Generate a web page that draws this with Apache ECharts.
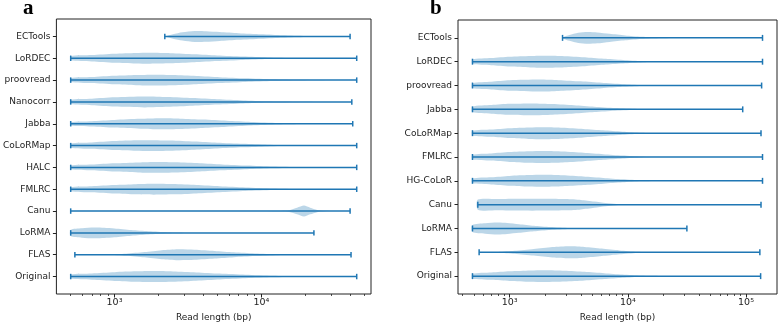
<!DOCTYPE html>
<html>
<head>
<meta charset="utf-8">
<script src="https://cdn.jsdelivr.net/npm/echarts@6/dist/echarts.min.js"></script>
<style>html,body{margin:0;padding:0;background:#fff}#c{width:778px;height:327px}</style>
</head>
<body>
<div id="c"></div>
<script>
// ---------- Panel a ----------
const catsA = ['ECTools','LoRDEC','proovread','Nanocorr','Jabba','CoLoRMap','HALC','FMLRC','Canu','LoRMA','FLAS','Original'];
const minA = [2200,503,503,503,503,503,503,503,503,503,537,503];
const maxA = [40200,44600,44600,41300,41900,44600,44600,44600,40200,22800,40800,44600];
// violin outline knots: read lengths and relative half-widths (1 = widest)
const knotLenA = [
  [2200,2500,2900,3500,4200,5200,7000,10000,14000,20000,28000,40200],
  [503,700,1000,1400,1750,2400,3500,5000,7500,11000,17000,25000,44600],
  [503,700,1000,1400,1850,2500,3600,5200,7800,12000,18000,26000,44600],
  [503,700,1000,1600,2300,3400,5000,7500,11000,17000,25000,41300],
  [503,700,1000,1500,2050,2800,4000,5800,8500,13000,19000,27000,41900],
  [503,700,1000,1400,1750,2400,3500,5000,7500,11000,17000,25000,44600],
  [503,700,1000,1450,1950,2600,3800,5400,8000,12000,18000,26000,44600],
  [503,700,1000,1400,1850,2500,3600,5200,7800,12000,18000,26000,44600],
  [503,5000,12000,15500,17500,19500,21500,24000,27000,32000,40200],
  [503,600,730,850,1000,1300,1700,2300,3200,5000,22800],
  [537,900,1200,1600,2100,2700,3500,4800,6500,9000,13000,20000,40800],
  [503,700,1000,1400,1850,2500,3600,5200,7800,12000,18000,26000,44600]
];
const knotWA = [
  [0,0.4,0.75,1,0.97,0.82,0.6,0.4,0.22,0.08,0.02,0],
  [0.38,0.58,0.82,0.96,1,0.93,0.74,0.52,0.32,0.15,0.05,0.01,0],
  [0.35,0.55,0.78,0.93,1,0.94,0.76,0.54,0.33,0.15,0.05,0.01,0],
  [0.4,0.6,0.85,1,0.9,0.7,0.48,0.28,0.12,0.04,0.01,0],
  [0.3,0.48,0.7,0.9,1,0.94,0.76,0.54,0.32,0.14,0.05,0.01,0],
  [0.38,0.58,0.82,0.96,1,0.93,0.74,0.52,0.32,0.15,0.05,0.01,0],
  [0.33,0.52,0.75,0.92,1,0.94,0.76,0.54,0.33,0.15,0.05,0.01,0],
  [0.35,0.55,0.78,0.93,1,0.94,0.76,0.54,0.33,0.15,0.05,0.01,0],
  [0.03,0.05,0.07,0.15,0.6,1,0.6,0.2,0.04,0.01,0],
  [0.58,0.87,1,0.94,0.8,0.52,0.3,0.13,0.04,0.01,0],
  [0,0.04,0.18,0.48,0.82,1,0.93,0.7,0.45,0.24,0.08,0.02,0],
  [0.38,0.58,0.8,0.95,1,0.94,0.76,0.54,0.33,0.15,0.05,0.01,0]
];
const majorTicksA = [1000,10000];
const tickLabelsA = ['10³','10⁴'];
const minorTicksA = [400,500,600,700,800,900,2000,3000,4000,5000,6000,7000,8000,9000,20000,30000,40000,50000];

// ---------- Panel b ----------
const catsB = ['ECTools','LoRDEC','proovread','Jabba','CoLoRMap','FMLRC','HG-CoLoR','Canu','LoRMA','FLAS','Original'];
const minB = [2800,484,484,484,484,484,484,537,484,551,484];
const maxB = [138000,138000,135600,93800,134000,138000,138000,134000,31600,131000,133000];
const knotLenB = [
  [2800,3200,3800,4600,5500,7000,9500,13000,19000,30000,138000],
  [484,700,1000,1500,2150,3000,4500,6500,9500,14000,20000,138000],
  [484,700,1000,1770,2600,4000,6000,9000,13000,20000,135600],
  [484,700,1000,1550,2300,3500,5200,7800,12000,18000,93800],
  [484,700,1000,1450,2000,2800,4200,6200,9000,13000,19000,134000],
  [484,700,1000,1450,2000,2800,4200,6200,9000,13000,19000,138000],
  [484,700,1000,1450,2000,2800,4200,6200,9000,13000,19000,138000],
  [537,800,1200,2000,3000,4000,5200,6500,8000,11000,134000],
  [484,620,790,950,1200,1600,2200,3200,4500,31600],
  [551,800,1100,1600,2300,3200,4300,6000,8500,12000,17000,131000],
  [484,700,1000,1500,2000,2900,4300,6300,9000,13000,19000,133000]
];
const knotWB = [
  [0.1,0.5,0.88,1,0.92,0.68,0.4,0.18,0.05,0.01,0],
  [0.36,0.6,0.82,0.96,1,0.92,0.72,0.48,0.25,0.08,0.02,0],
  [0.4,0.65,0.88,1,0.9,0.7,0.45,0.22,0.07,0.01,0],
  [0.45,0.72,0.92,1,0.9,0.7,0.45,0.22,0.07,0.01,0],
  [0.38,0.6,0.82,0.96,1,0.92,0.72,0.48,0.25,0.08,0.02,0],
  [0.38,0.6,0.82,0.96,1,0.92,0.72,0.48,0.25,0.08,0.02,0],
  [0.38,0.6,0.82,0.96,1,0.92,0.72,0.48,0.25,0.08,0.02,0],
  [0.85,0.95,1,1,0.95,0.8,0.52,0.26,0.09,0.02,0],
  [0.58,0.87,1,0.92,0.72,0.46,0.24,0.08,0.02,0],
  [0,0.06,0.24,0.55,0.87,1,0.9,0.62,0.32,0.1,0.02,0],
  [0.4,0.62,0.82,0.96,1,0.92,0.74,0.5,0.27,0.09,0.02,0]
];
const majorTicksB = [1000,10000,100000];
const tickLabelsB = ['10³','10⁴','10⁵'];
const minorTicksB = [400,500,600,700,800,900,2000,3000,4000,5000,6000,7000,8000,9000,20000,30000,40000,50000,60000,70000,80000,90000];

const TXT = '#222';
const FONT = 'DejaVu Sans';
const LINE = '#1f77b4';
const FILL = 'rgba(31,119,180,0.3)';

function makeRender(knotLen, knotW) {
  return function (params, api) {
    const i = params.dataIndex;
    const lo = api.value(0), pos = api.value(1), hi = api.value(2);
    const L = knotLen[i], W = knotW[i];
    const top = [], bot = [];
    for (let k = 0; k < L.length; k++) {
      top.push(api.coord([L[k], pos + W[k] * 0.25]));
      bot.push(api.coord([L[k], pos - W[k] * 0.25]));
    }
    const pts = top.concat(bot.reverse());
    const a = api.coord([lo, pos]), b = api.coord([hi, pos]);
    const cT = api.coord([lo, pos + 0.125])[1], cB = api.coord([lo, pos - 0.125])[1];
    const ls = {stroke: LINE, lineWidth: 1.5};
    return {type: 'group', children: [
      {type: 'polygon', shape: {points: pts, smooth: 0.25}, style: {fill: FILL}},
      {type: 'line', shape: {x1: a[0], y1: a[1], x2: b[0], y2: b[1]}, style: ls},
      {type: 'line', shape: {x1: a[0], y1: cT, x2: a[0], y2: cB}, style: ls},
      {type: 'line', shape: {x1: b[0], y1: cT, x2: b[0], y2: cB}, style: ls}
    ]};
  };
}

function labelFor(majors, labels) {
  return function (v) {
    for (let k = 0; k < majors.length; k++) {
      if (Math.abs(Math.log10(majors[k]) - Math.log10(v)) < 1e-6) return labels[k];
    }
    return '';
  };
}

function xAxes(grid, lo, hi, majors, labels, minors) {
  return [
    {type: 'log', logBase: 10, gridIndex: grid, min: lo, max: hi,
     axisLine: {show: false}, splitLine: {show: false},
     axisTick: {customValues: majors, length: 3.5, lineStyle: {color: TXT, width: 1}},
     axisLabel: {customValues: majors, formatter: labelFor(majors, labels), fontSize: 9.5, color: TXT, fontFamily: FONT, margin: 4},
     name: 'Read length (bp)', nameLocation: 'middle', nameGap: 19,
     nameTextStyle: {fontSize: 9, color: TXT, fontFamily: FONT}},
    {type: 'log', logBase: 10, gridIndex: grid, min: lo, max: hi, position: 'bottom',
     axisLine: {show: false}, splitLine: {show: false},
     axisTick: {customValues: minors, length: 2, lineStyle: {color: TXT, width: 0.8}},
     axisLabel: {show: false}}
  ];
}

function yAxis(grid, cats, lo, hi) {
  const n = cats.length;
  const posVals = cats.map((c, i) => n - i);
  return {type: 'value', gridIndex: grid, min: lo, max: hi,
    axisLine: {show: false}, splitLine: {show: false},
    axisTick: {customValues: posVals, length: 3.5, lineStyle: {color: TXT, width: 1}},
    axisLabel: {customValues: posVals, formatter: v => cats[n - Math.round(v)], fontSize: 9, color: TXT, fontFamily: FONT, margin: 6}};
}

function seriesData(cats, mins, maxs) {
  const n = cats.length;
  return cats.map((c, i) => ({name: c, value: [mins[i], n - i, maxs[i]]}));
}

const chart = echarts.init(document.getElementById('c'), null, {renderer: 'canvas'});
chart.setOption({
  animation: false,
  backgroundColor: '#fff',
  grid: [
    {left: 52, top: 19, width: 319, height: 278, show: true, borderColor: '#222', borderWidth: 1, backgroundColor: 'transparent'},
    {left: 458, top: 20, width: 319, height: 278, show: true, borderColor: '#222', borderWidth: 1, backgroundColor: 'transparent'}
  ],
  xAxis: xAxes(0, 402, 55800, majorTicksA, tickLabelsA, minorTicksA)
    .concat(xAxes(1, 365, 183000, majorTicksB, tickLabelsB, minorTicksB)),
  yAxis: [yAxis(0, catsA, 0.2, 12.8), yAxis(1, catsB, 0.25, 11.75)],
  graphic: [
    {type: 'text', left: 23, top: -2, style: {text: 'a', font: 'bold 21px "Liberation Serif"', fill: '#000'}},
    {type: 'text', left: 430, top: -2, style: {text: 'b', font: 'bold 21px "Liberation Serif"', fill: '#000'}}
  ],
  series: [
    {type: 'custom', xAxisIndex: 0, yAxisIndex: 0, renderItem: makeRender(knotLenA, knotWA),
     encode: {x: [0, 2], y: 1}, data: seriesData(catsA, minA, maxA)},
    {type: 'custom', xAxisIndex: 2, yAxisIndex: 1, renderItem: makeRender(knotLenB, knotWB),
     encode: {x: [0, 2], y: 1}, data: seriesData(catsB, minB, maxB)}
  ]
});
</script>
</body>
</html>
